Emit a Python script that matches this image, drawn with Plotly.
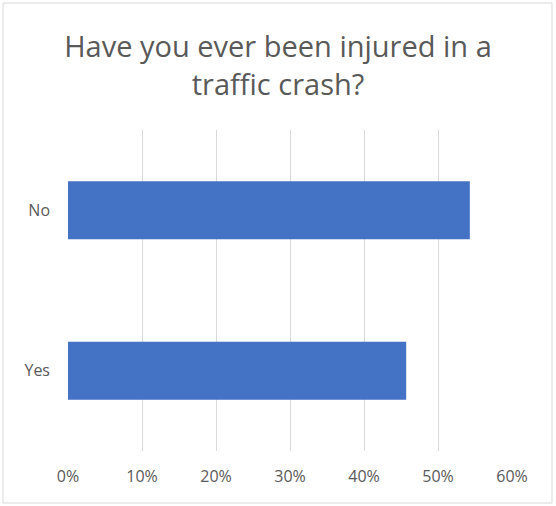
import plotly.graph_objects as go

categories = ["Yes", "No"]
shares = [0.457, 0.543]
x_ticks = [0, 0.1, 0.2, 0.3, 0.4, 0.5, 0.6]
x_tick_labels = ["0%", "10%", "20%", "30%", "40%", "50%", "60%"]
title_text = "Have you ever been injured in a<br>traffic crash?"

W, H = 556, 506
M = dict(l=68, r=44, t=130, b=55)
TEXT = "#595959"
GRID = "#D9D9D9"
FONT = "Open Sans, sans-serif"

fig = go.Figure(
    go.Bar(
        x=shares,
        y=categories,
        orientation="h",
        marker=dict(color="#4472C4", line=dict(width=0)),
        hoverinfo="x+y",
    )
)

# frame around the whole chart, in paper units
pw = W - M["l"] - M["r"]
ph = H - M["t"] - M["b"]
fig.add_shape(
    type="rect",
    xref="paper", yref="paper",
    x0=(3 - M["l"]) / pw, x1=(W - 4 - M["l"]) / pw,
    y0=(3 - M["b"]) / ph, y1=(H - M["b"] - 3) / ph,
    line=dict(color=GRID, width=1),
    fillcolor="rgba(0,0,0,0)",
    layer="below",
)

fig.update_layout(
    width=W,
    height=H,
    margin=M,
    paper_bgcolor="white",
    plot_bgcolor="white",
    font=dict(family=FONT, color=TEXT, size=16),
    bargap=0.64,
    showlegend=False,
    title=dict(
        text=title_text,
        font=dict(size=29, color=TEXT, family=FONT),
        x=0.5,
        xref="container",
        xanchor="center",
        y=1 - 57 / H,
        yanchor="middle",
    ),
    xaxis=dict(
        range=[0, 0.6],
        tickvals=x_ticks,
        ticktext=x_tick_labels,
        showgrid=True,
        gridcolor=GRID,
        gridwidth=1,
        zeroline=False,
        showline=False,
        ticks="",
        ticklabelstandoff=14,
        tickfont=dict(size=16, color=TEXT),
        automargin=False,
        fixedrange=True,
    ),
    yaxis=dict(
        showgrid=False,
        zeroline=False,
        showline=False,
        ticks="",
        ticklabelstandoff=17,
        tickfont=dict(size=16, color=TEXT),
        automargin=False,
        fixedrange=True,
    ),
)

# drop the browser's default body margin so the chart sits at the page corner
fig.write_html(
    "out.html",
    config={"displayModeBar": False},
    post_script="document.body.style.margin='0';",
)
